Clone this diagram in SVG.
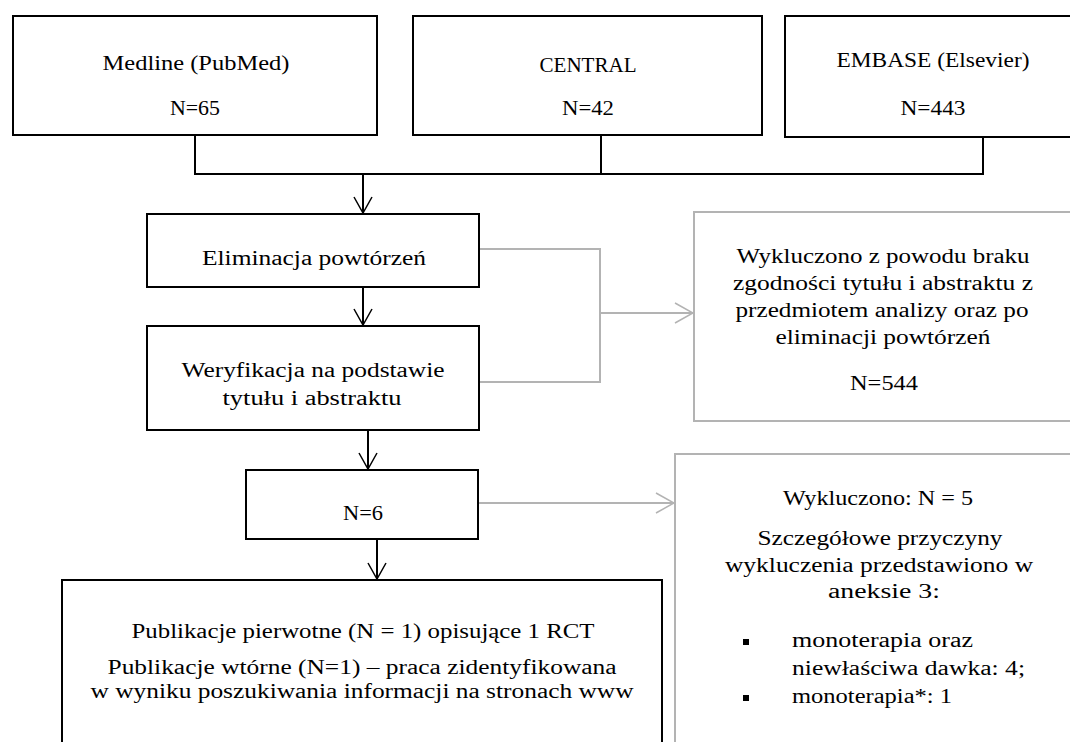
<svg xmlns="http://www.w3.org/2000/svg" width="1070" height="742" viewBox="0 0 1070 742">
<style>
.bk{fill:#fff;stroke:#000;stroke-width:2}
.gr{fill:#fff;stroke:#b3b3b3;stroke-width:2}
.t{font-family:"Liberation Serif","Times New Roman",serif;font-size:20px;fill:#000;text-anchor:middle}
.ts{font-family:"Liberation Serif","Times New Roman",serif;font-size:20px;fill:#000;text-anchor:start}
.cb{fill:none;stroke:#000;stroke-width:2}
.cg{fill:none;stroke:#b3b3b3;stroke-width:2}
</style>
<defs>
<marker id="ab" markerUnits="userSpaceOnUse" viewBox="0 0 18 20" markerWidth="18" markerHeight="20" refX="17" refY="10" orient="auto">
<path d="M1,1 L17,10 L1,19" fill="none" stroke="#000" stroke-width="1.5"/>
</marker>
<marker id="ag" markerUnits="userSpaceOnUse" viewBox="0 0 20 22" markerWidth="20" markerHeight="22" refX="19" refY="11" orient="auto">
<path d="M1,1 L19,11 L1,21" fill="none" stroke="#b3b3b3" stroke-width="1.5"/>
</marker>
</defs>
<rect width="1070" height="742" fill="#fff"/>
<g id="connectors">
<path class="cb" d="M195,135 V174 H983 V137"/>
<path class="cb" d="M601,135 V174"/>
<path class="cb" d="M363,174 V213" marker-end="url(#ab)"/>
<path class="cb" d="M363,287 V325" marker-end="url(#ab)"/>
<path class="cb" d="M368,430 V469" marker-end="url(#ab)"/>
<path class="cb" d="M377,539 V579" marker-end="url(#ab)"/>
<path class="cg" d="M479,249 H600 V382 H479"/>
<path class="cg" d="M600,313 H693" marker-end="url(#ag)"/>
<path class="cg" d="M478,503 H674" marker-end="url(#ag)"/>
</g>
<g id="medline">
<rect class="bk" x="13" y="16" width="364" height="119"/>
<text class="t" x="196" y="70" textLength="187" lengthAdjust="spacingAndGlyphs">Medline (PubMed)</text>
<text class="t" x="195" y="115" textLength="50" lengthAdjust="spacingAndGlyphs">N=65</text>
</g>
<g id="central">
<rect class="bk" x="413" y="16" width="349" height="119"/>
<text class="t" x="588" y="72" textLength="97" lengthAdjust="spacingAndGlyphs">CENTRAL</text>
<text class="t" x="588" y="115" textLength="52" lengthAdjust="spacingAndGlyphs">N=42</text>
</g>
<g id="embase">
<rect class="bk" x="785" y="16" width="300" height="121"/>
<text class="t" x="933" y="67" textLength="193" lengthAdjust="spacingAndGlyphs">EMBASE (Elsevier)</text>
<text class="t" x="933" y="115" textLength="65" lengthAdjust="spacingAndGlyphs">N=443</text>
</g>
<g id="eliminacja">
<rect class="bk" x="147" y="214" width="332" height="73"/>
<text class="t" x="314" y="265" textLength="224" lengthAdjust="spacingAndGlyphs">Eliminacja powtórzeń</text>
</g>
<g id="weryfikacja">
<rect class="bk" x="147" y="326" width="332" height="104"/>
<text class="t" x="313" y="377" textLength="263" lengthAdjust="spacingAndGlyphs">Weryfikacja na podstawie</text>
<text class="t" x="312" y="405" textLength="179" lengthAdjust="spacingAndGlyphs">tytułu i abstraktu</text>
</g>
<g id="wykluczono1">
<rect class="gr" x="694" y="212" width="400" height="209"/>
<text class="t" x="883" y="263" textLength="293" lengthAdjust="spacingAndGlyphs">Wykluczono z powodu braku</text>
<text class="t" x="883" y="290" textLength="300" lengthAdjust="spacingAndGlyphs">zgodności tytułu i abstraktu z</text>
<text class="t" x="882" y="317" textLength="293" lengthAdjust="spacingAndGlyphs">przedmiotem analizy oraz po</text>
<text class="t" x="883" y="344" textLength="215" lengthAdjust="spacingAndGlyphs">eliminacji powtórzeń</text>
<text class="t" x="884" y="390" textLength="68" lengthAdjust="spacingAndGlyphs">N=544</text>
</g>
<g id="n6">
<rect class="bk" x="246" y="470" width="232" height="69"/>
<text class="t" x="363" y="520" textLength="40" lengthAdjust="spacingAndGlyphs">N=6</text>
</g>
<g id="wykluczono2">
<rect class="gr" x="675" y="454" width="420" height="300"/>
<text class="t" x="878" y="505" textLength="190" lengthAdjust="spacingAndGlyphs">Wykluczono: N = 5</text>
<text class="t" x="880" y="545" textLength="245" lengthAdjust="spacingAndGlyphs">Szczegółowe przyczyny</text>
<text class="t" x="879" y="572" textLength="308" lengthAdjust="spacingAndGlyphs">wykluczenia przedstawiono w</text>
<text class="t" x="884" y="598" textLength="112" lengthAdjust="spacingAndGlyphs">aneksie 3:</text>
<rect x="743" y="639" width="6" height="6" fill="#000"/>
<rect x="743" y="695" width="6" height="6" fill="#000"/>
<text class="ts" x="792" y="647" textLength="181" lengthAdjust="spacingAndGlyphs">monoterapia oraz</text>
<text class="ts" x="792" y="675" textLength="233" lengthAdjust="spacingAndGlyphs">niewłaściwa dawka: 4;</text>
<text class="ts" x="792" y="703" textLength="160" lengthAdjust="spacingAndGlyphs">monoterapia*: 1</text>
</g>
<g id="publikacje">
<rect class="bk" x="62" y="580" width="600" height="180"/>
<text class="t" x="363" y="638" textLength="463" lengthAdjust="spacingAndGlyphs">Publikacje pierwotne (N = 1) opisujące 1 RCT</text>
<text class="t" x="362" y="674" textLength="509" lengthAdjust="spacingAndGlyphs">Publikacje wtórne (N=1) – praca zidentyfikowana</text>
<text class="t" x="362" y="698" textLength="543" lengthAdjust="spacingAndGlyphs">w wyniku poszukiwania informacji na stronach www</text>
</g>
</svg>
